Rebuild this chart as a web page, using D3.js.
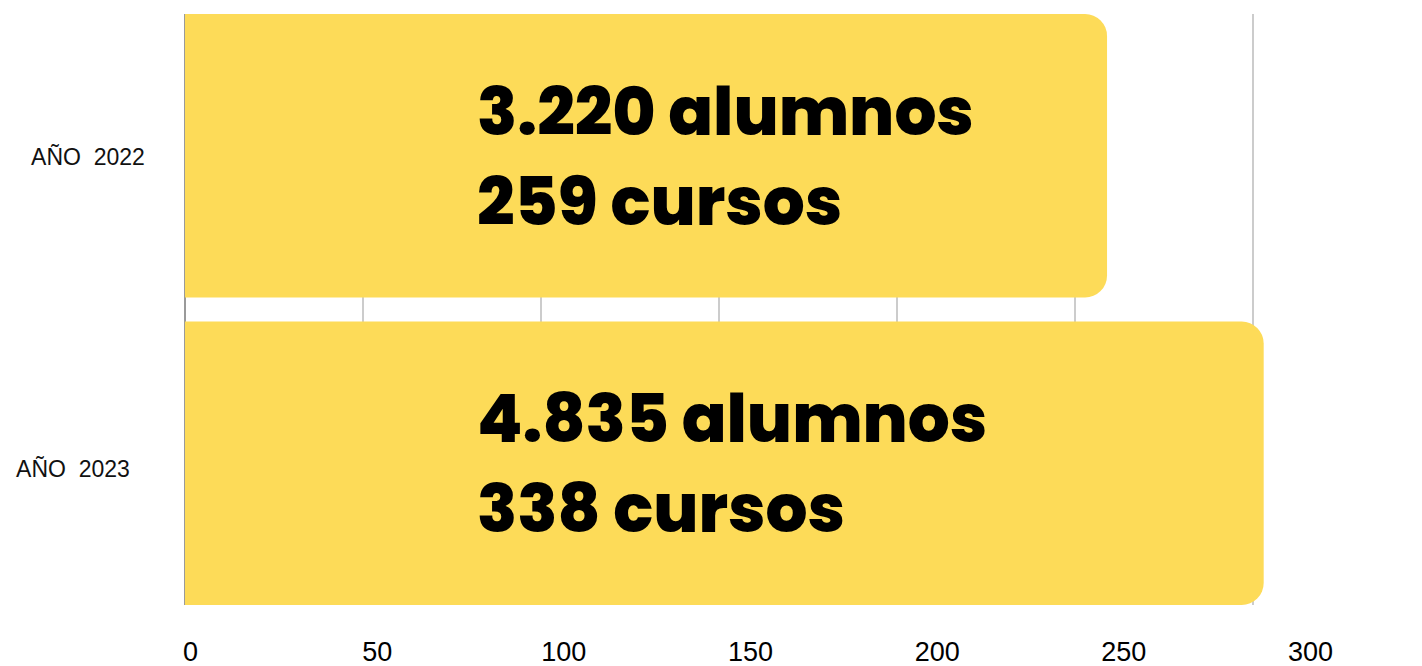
<!DOCTYPE html>
<html>
<head>
<meta charset="utf-8">
<script src="https://cdn.jsdelivr.net/npm/d3@7"></script>
<style>
  html, body { margin: 0; padding: 0; background: #fff; }
  svg { display: block; }
</style>
</head>
<body>
<svg></svg>
<script>
// data
var categories = ["AÑO  2022", "AÑO  2023"];
var barValues = [259, 303];
var alumnosLabels = ["3.220 alumnos", "4.835 alumnos"];
var cursosLabels = ["259 cursos", "338 cursos"];
var tickValues = [0, 50, 100, 150, 200, 250, 300];

var svgWidth = 1422, svgHeight = 666;
var barColor = "#FDDB58", radius = 22;

var svg = d3.select("svg")
    .attr("width", svgWidth)
    .attr("height", svgHeight);

var xScale = d3.scaleLinear()
    .domain([0, 300])
    .range([185, 1253]);

// tick labels sit a little wider than the grid in the original
var xLabelScale = d3.scaleLinear()
    .domain([0, 300])
    .range([190, 1310]);

var yScale = d3.scaleBand()
    .domain(categories)
    .range([14, 605])
    .paddingInner(0.078);

// grid
svg.append("g").selectAll("line")
    .data(tickValues)
    .enter()
    .append("line")
    .attr("x1", function(d) { return xScale(d); })
    .attr("x2", function(d) { return xScale(d); })
    .attr("y1", yScale.range()[0])
    .attr("y2", yScale.range()[1])
    .attr("stroke", function(d) { return d === 0 ? "#9a9a9a" : "#cccccc"; })
    .attr("stroke-width", 2);

// bars, rounded on the right only
function barPath(d, i) {
    var x0 = xScale(0), x1 = xScale(d);
    var y0 = yScale(categories[i]), y1 = y0 + yScale.bandwidth();
    return "M" + x0 + "," + y0 +
        "H" + (x1 - radius) +
        "A" + radius + "," + radius + " 0 0 1 " + x1 + "," + (y0 + radius) +
        "V" + (y1 - radius) +
        "A" + radius + "," + radius + " 0 0 1 " + (x1 - radius) + "," + y1 +
        "H" + x0 + "Z";
}

svg.append("g").selectAll("path")
    .data(barValues)
    .enter()
    .append("path")
    .attr("d", barPath)
    .attr("fill", barColor);

// big labels inside the bars
var inner = svg.append("g")
    .attr("font-family", "Poppins, Inter, 'Open Sans', sans-serif")
    .attr("font-weight", 800)
    .attr("font-size", 66)
    .attr("fill", "#000");

inner.selectAll("text.alumnos")
    .data(alumnosLabels)
    .enter()
    .append("text")
    .attr("class", "alumnos")
    .attr("x", xScale(0) + 292)
    .attr("y", function(d, i) { return yScale(categories[i]) + 121; })
    .text(function(d) { return d; });

inner.selectAll("text.cursos")
    .data(cursosLabels)
    .enter()
    .append("text")
    .attr("class", "cursos")
    .attr("x", xScale(0) + 292)
    .attr("y", function(d, i) { return yScale(categories[i]) + 211; })
    .text(function(d) { return d; });

// category labels
var labelShift = [[0, 1], [-15, 6]];
svg.append("g").selectAll("text")
    .data(categories)
    .enter()
    .append("text")
    .attr("x", function(d, i) { return 88 + labelShift[i][0]; })
    .attr("y", function(d, i) { return yScale(d) + yScale.bandwidth() / 2 + labelShift[i][1]; })
    .attr("dy", "0.35em")
    .attr("text-anchor", "middle")
    .attr("font-family", "'Liberation Sans', Arial, sans-serif")
    .attr("font-size", 23)
    .attr("fill", "#111")
    .style("white-space", "pre")
    .text(function(d) { return d; });

// bottom axis, labels only
var x_axis = d3.axisBottom(xLabelScale)
    .tickValues(tickValues)
    .tickSize(0)
    .tickPadding(0);

var axisG = svg.append("g")
    .attr("transform", "translate(0, 642)")
    .call(x_axis);

axisG.select(".domain").remove();
axisG.selectAll("text")
    .attr("dy", "0.71em")
    .attr("font-family", "'Liberation Sans', Arial, sans-serif")
    .attr("font-size", 27)
    .attr("fill", "#000");
</script>
</body>
</html>
